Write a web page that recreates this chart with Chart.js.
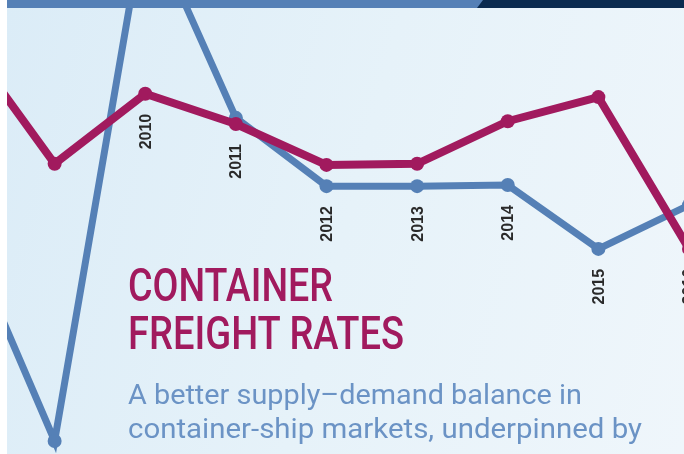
<!DOCTYPE html>
<html>
<head>
<meta charset="utf-8">
<script src="https://cdn.jsdelivr.net/npm/chart.js@4"></script>
<style>
  html, body { margin: 0; padding: 0; background: #fff; }
  body { width: 684px; height: 454px; position: relative; overflow: hidden; }
  #wrap {
    position: absolute; left: 7px; top: 0; width: 677px; height: 454px; overflow: hidden;
    background: linear-gradient(105deg, #dbecf7 0%, #e6f2f9 50%, #eff6fb 100%);
  }
  #chartBox { position: absolute; left: -43px; top: -100px; width: 725px; height: 560px; }
  .band { position: absolute; top: 0; height: 8px; }
  #bandNavy { left: 0; width: 677px; background: #0b2b50; }
  #bandBlue { left: 0; width: 476px; background: #5580b6; clip-path: polygon(0 0, 476px 0, 470px 100%, 0 100%); }
  .txt { position: absolute; white-space: nowrap; transform-origin: 0 0; }
  .title { font-family: Roboto, "Liberation Sans", sans-serif; font-size: 46px; font-weight: 500; color: #a11a5e; line-height: 1; }
  .sub { font-family: Roboto, "Liberation Sans", sans-serif; font-size: 28px; color: #6b93c5; line-height: 1; }
</style>
</head>
<body>
<div id="wrap">
  <div id="chartBox"><canvas id="freightChart" width="725" height="560"></canvas></div>
  <div class="band" id="bandNavy"></div>
  <div class="band" id="bandBlue"></div>
  <div class="txt title" data-w="205" style="left:121px; top:262px;">CONTAINER</div>
  <div class="txt title" data-w="276" style="left:121px; top:310px;">FREIGHT RATES</div>
  <div class="txt sub" data-w="454" style="left:121px; top:381px;">A better supply–demand balance in</div>
  <div class="txt sub" data-w="514" style="left:121px; top:415px;">container-ship markets, underpinned by</div>
</div>
<script>
// Years along the bottom
const years = ['2008', '2009', '2010', '2011', '2012', '2013', '2014', '2015', '2016'];
// Index values (same scale for both lines)
const magentaValues = [75.2, 52.9, 65.4, 60.0, 52.7, 52.9, 60.5, 64.8, 37.7];
const blueValues = [41.1, 3.4, 97.3, 61.1, 48.9, 48.9, 49.1, 37.7, 45.5];
const yMin = 0;
const yMax = 100;

// Squeeze the heading lines to the condensed widths of the original
document.querySelectorAll('.txt').forEach(function(el) {
    const natural = el.getBoundingClientRect().width;
    const target = parseFloat(el.dataset.w);
    el.style.transform = 'scaleX(' + (target / natural) + ')';
});

// Year labels sit under the lower of the two points, written upwards
const yearLabels = {
    id: 'yearLabels',
    afterDatasetsDraw(chart) {
        const ctx = chart.ctx;
        const metaA = chart.getDatasetMeta(0);
        const metaB = chart.getDatasetMeta(1);
        ctx.save();
        ctx.font = 'bold 16px "Liberation Sans", Arial, sans-serif';
        ctx.fillStyle = '#2a2a2a';
        ctx.textAlign = 'right';
        ctx.textBaseline = 'middle';
        years.forEach(function(year, i) {
            const a = metaA.data[i];
            const b = metaB.data[i];
            const top = Math.max(a.y, b.y) + 20;
            ctx.save();
            ctx.translate(a.x + 1, top);
            ctx.rotate(-Math.PI / 2);
            ctx.fillText(year, 0, 0);
            ctx.restore();
        });
        ctx.restore();
    }
};

const ctx = document.getElementById('freightChart').getContext('2d');
new Chart(ctx, {
    type: 'line',
    data: {
        labels: years,
        datasets: [
            {
                label: 'Magenta',
                data: magentaValues,
                borderColor: '#a11a5e',
                backgroundColor: '#a11a5e',
                borderWidth: 8,
                pointRadius: 7,
                pointBorderWidth: 0,
                tension: 0,
                fill: false
            },
            {
                label: 'Blue',
                data: blueValues,
                borderColor: '#5580b6',
                backgroundColor: '#5580b6',
                borderWidth: 7,
                pointRadius: 7,
                pointBorderWidth: 0,
                tension: 0,
                fill: false
            }
        ]
    },
    options: {
        responsive: false,
        animation: false,
        layout: { padding: 0, autoPadding: false },
        plugins: {
            legend: { display: false },
            tooltip: { enabled: false }
        },
        scales: {
            x: { display: false, offset: false },
            y: { display: false, min: yMin, max: yMax }
        }
    },
    plugins: [yearLabels]
});
</script>
</body>
</html>
